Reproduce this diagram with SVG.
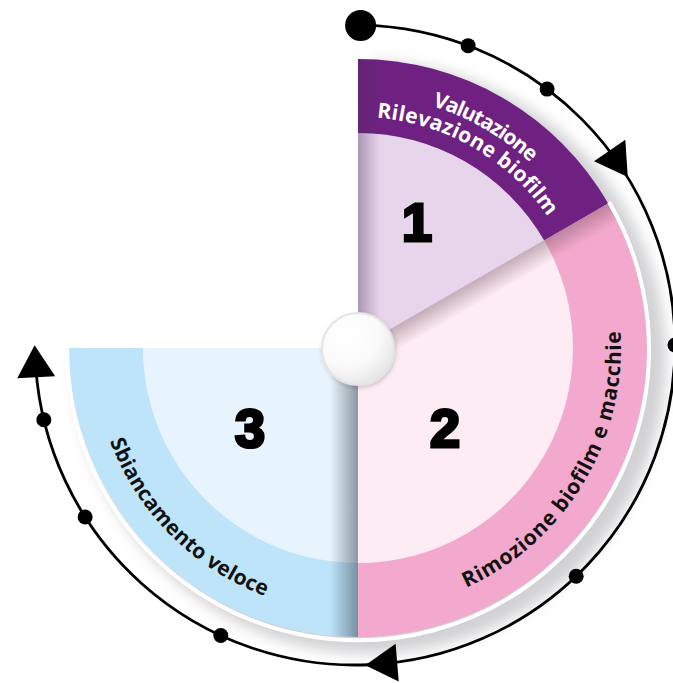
<svg xmlns="http://www.w3.org/2000/svg" xmlns:xlink="http://www.w3.org/1999/xlink" width="673" height="683" viewBox="0 0 673 683">
<style>
.lbl{font-family:"Open Sans","Noto Sans","DejaVu Sans",sans-serif;font-weight:700;font-size:21px}
.w{fill:#ffffff}
.k{fill:#111111}
.num{font-family:"Liberation Sans","Arial",sans-serif;font-weight:700;font-size:54px;fill:#000000;stroke:#000000;stroke-width:3.2;stroke-linejoin:miter;text-anchor:middle}
.ring{fill:none;stroke:#000000;stroke-width:2.8}
.dot{fill:#000000}
</style>
<defs>
<filter id="blur" x="-20%" y="-20%" width="140%" height="140%"><feGaussianBlur stdDeviation="7"/></filter>
<filter id="cshadow" x="-50%" y="-50%" width="200%" height="200%"><feDropShadow dx="1" dy="2" stdDeviation="2" flood-color="#000" flood-opacity="0.18"/></filter>
<clipPath id="noTL"><path d="M358,0 H673 V683 H0 V348 H358 Z"/></clipPath>
<linearGradient id="g1s" gradientUnits="userSpaceOnUse" x1="358" y1="0" x2="380" y2="0">
<stop offset="0" stop-color="#4e2e5a" stop-opacity="0.38"/><stop offset="1" stop-color="#4e2e5a" stop-opacity="0"/></linearGradient>
<linearGradient id="g3s" gradientUnits="userSpaceOnUse" x1="330" y1="0" x2="358" y2="0">
<stop offset="0" stop-color="#2f3d48" stop-opacity="0"/><stop offset="1" stop-color="#2f3d48" stop-opacity="0.5"/></linearGradient>
<linearGradient id="g2s" gradientUnits="userSpaceOnUse" x1="358" y1="348" x2="369" y2="367">
<stop offset="0" stop-color="#5a3a4a" stop-opacity="0.35"/><stop offset="1" stop-color="#5a3a4a" stop-opacity="0"/></linearGradient>
<radialGradient id="gc" cx="0.35" cy="0.3" r="0.8">
<stop offset="0" stop-color="#ffffff"/><stop offset="0.55" stop-color="#fafafa"/><stop offset="1" stop-color="#e2e2e2"/></radialGradient>
<path id="ah" d="M16,0 L-16,-19 L-16,19 Z"/>
<path id="p1" d="M313.72,98.87 A253,253 0 0 1 595.74,261.47"/>
<path id="p2" d="M317.71,120.50 A231,231 0 0 1 575.07,269.00"/>
<path id="p3" d="M403.67,607.0 A263,263 0 0 0 608.13,266.73"/>
<path id="p4" d="M94.01,371.10 A265,265 0 0 0 334.90,611.99"/>
</defs>

<g id="shadow" clip-path="url(#noTL)">
<path d="M370,358 L370,62 A296,296 0 1 1 74,358 Z" fill="#d2d2d5" filter="url(#blur)"/>
</g>

<g id="node-1">
<path d="M358,348 L358,59 A289,289 0 0 1 608.28,203.5 Z" fill="#6e2181"/>
<path d="M358,348 L358,133 A215,215 0 0 1 544.19,240.5 Z" fill="#e7d6eb"/>
<path d="M358,348 L358,59 A289,289 0 0 1 608.28,203.5 Z" fill="url(#g1s)"/>
<text class="lbl w"><textPath xlink:href="#p1" href="#p1" startOffset="50%" text-anchor="middle" textLength="114" lengthAdjust="spacing">Valutazione</textPath></text>
<text class="lbl w"><textPath xlink:href="#p2" href="#p2" startOffset="50%" text-anchor="middle" textLength="204" lengthAdjust="spacing">Rilevazione biofilm</textPath></text>
<text class="num" x="417" y="241">1</text>
</g>

<g id="node-2">
<path d="M358,348 L608.28,203.5 A289,289 0 0 1 358,637 Z" fill="#f3a9cd"/>
<path d="M358,348 L544.19,240.5 A215,215 0 0 1 358,563 Z" fill="#fdecf4"/>
<path d="M358,348 L608.28,203.5 A289,289 0 0 1 358,637 Z" fill="url(#g2s)"/>
<text class="lbl k"><textPath xlink:href="#p3" href="#p3" startOffset="50%" text-anchor="middle" textLength="318" lengthAdjust="spacing">Rimozione biofilm e macchie</textPath></text>
<text class="num" x="445" y="447">2</text>
</g>

<g id="node-3">
<path d="M358,348 L358,637 A289,289 0 0 1 69,348 Z" fill="#bee4f9"/>
<path d="M358,348 L358,563 A215,215 0 0 1 143,348 Z" fill="#e8f4fd"/>
<path d="M358,348 L358,637 A289,289 0 0 1 69,348 Z" fill="url(#g3s)"/>
<text class="lbl k"><textPath xlink:href="#p4" href="#p4" startOffset="50%" text-anchor="middle" textLength="226" lengthAdjust="spacing">Sbiancamento veloce</textPath></text>
<text class="num" x="250" y="447">3</text>
</g>

<path id="rim" d="M608.98,202.0 A291,291 0 1 1 67,348" fill="none" stroke="#ffffff" stroke-width="4"/>

<g id="center">
<circle cx="358" cy="349" r="36" fill="url(#gc)" stroke="#e4e4e4" stroke-width="2" filter="url(#cshadow)"/>
</g>

<g id="connectors">
<path class="ring" d="M360.585,25.05 A320,320 0 1 1 35.78,367.32"/>
<circle class="dot" cx="360.6" cy="25.5" r="15.5"/>
<circle class="dot" cx="468.11" cy="45.66" r="7.5"/>
<circle class="dot" cx="547.13" cy="89.10" r="7.5"/>
<circle class="dot" cx="675" cy="345" r="7.5"/>
<circle class="dot" cx="576.17" cy="576.27" r="7.5"/>
<circle class="dot" cx="220.78" cy="635.49" r="7.5"/>
<circle class="dot" cx="85.12" cy="516.94" r="7.5"/>
<circle class="dot" cx="43.84" cy="419.70" r="7.5"/>
<use href="#ah" xlink:href="#ah" transform="translate(618.72,163.75) rotate(55.5)"/>
<use href="#ah" xlink:href="#ah" transform="translate(381.22,663.92) rotate(175.3)"/>
<use href="#ah" xlink:href="#ah" transform="translate(35.41,361.19) rotate(267.1)"/>
</g>
</svg>
